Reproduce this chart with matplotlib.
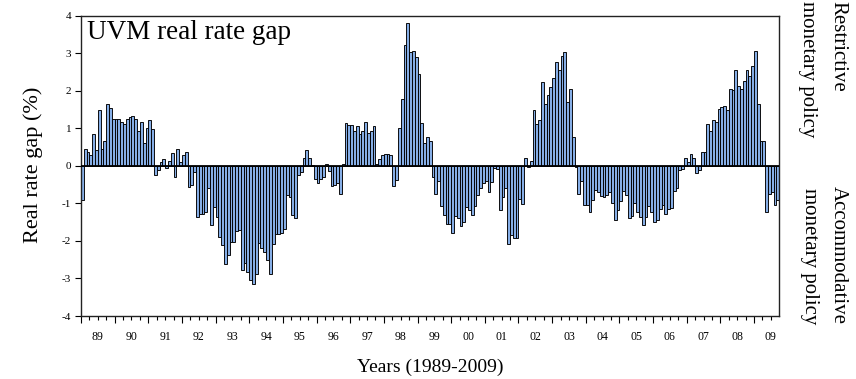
import matplotlib
matplotlib.use("Agg")
import matplotlib.pyplot as plt
import numpy as np

plt.rcParams['font.family'] = ['Liberation Serif', 'DejaVu Serif']
plt.rcParams['axes.unicode_minus'] = False

# Monthly real rate gap (%), 1989M1 - 2009M9
gap_1989 = [-0.92, 0.46, 0.37, 0.30, 0.85, 0.41, 1.48, 0.45, 0.67, 1.65, 1.55, 1.24]
gap_1990 = [1.24, 1.24, 1.16, 1.11, 1.26, 1.31, 1.33, 1.24, 0.94, 1.17, 0.62, 1.00]
gap_1991 = [1.21, 0.98, -0.25, -0.12, 0.11, 0.18, -0.07, 0.14, 0.33, -0.31, 0.44, 0.11]
gap_1992 = [0.30, 0.36, -0.56, -0.52, -0.16, -1.35, -1.27, -1.27, -1.23, -0.58, -1.57, -1.10]
gap_1993 = [-1.35, -1.90, -2.10, -2.62, -2.38, -2.04, -2.04, -1.74, -1.72, -2.78, -2.60, -2.83]
gap_1994 = [-3.05, -3.15, -2.87, -2.05, -2.20, -2.30, -2.50, -2.88, -2.08, -1.81, -1.81, -1.78]
gap_1995 = [-1.67, -0.77, -0.84, -1.32, -1.39, -0.25, -0.16, 0.21, 0.42, 0.21, 0.02, -0.35]
gap_1996 = [-0.47, -0.34, -0.31, 0.06, -0.13, -0.53, -0.50, -0.47, -0.76, 0.04, 1.13, 1.08]
gap_1997 = [1.10, 0.92, 1.06, 0.85, 0.94, 1.18, 0.87, 0.92, 1.05, 0.06, 0.18, 0.28]
gap_1998 = [0.31, 0.31, 0.28, -0.53, -0.39, 1.01, 1.79, 3.22, 3.80, 3.04, 3.06, 2.90]
gap_1999 = [2.46, 1.15, 0.61, 0.76, 0.65, -0.31, -0.74, -0.41, -1.07, -1.30, -1.54, -1.56]
gap_2000 = [-1.80, -1.33, -1.40, -1.60, -1.49, -1.09, -1.18, -1.30, -1.08, -0.78, -0.60, -0.47]
gap_2001 = [-0.41, -0.69, -0.44, -0.05, -0.09, -1.18, -0.84, -0.58, -2.07, -1.85, -1.91, -1.91]
gap_2002 = [-0.89, -1.02, 0.21, -0.04, 0.13, 1.48, 1.12, 1.21, 2.24, 1.64, 1.88, 2.10]
gap_2003 = [2.33, 2.77, 2.55, 2.92, 3.03, 1.69, 2.06, 0.76, -0.03, -0.76, -0.41, -1.05]
gap_2004 = [-1.05, -1.23, -0.90, -0.65, -0.69, -0.80, -0.84, -0.78, -0.69, -1.00, -1.45, -1.18]
gap_2005 = [-0.94, -0.66, -0.78, -1.40, -1.34, -1.00, -1.24, -1.36, -1.58, -1.36, -1.07, -1.23]
gap_2006 = [-1.49, -1.45, -1.16, -1.05, -1.27, -1.14, -1.11, -0.68, -0.60, -0.12, -0.09, 0.20]
gap_2007 = [0.09, 0.31, 0.21, -0.18, -0.12, 0.37, 0.36, 1.12, 0.93, 1.23, 1.16, 1.52]
gap_2008 = [1.58, 1.59, 1.50, 2.05, 2.02, 2.55, 2.12, 2.06, 2.27, 2.55, 2.39, 2.67]
gap_2009 = [3.07, 1.66, 0.66, 0.66, -1.23, -0.74, -0.69, -1.03, -0.90]

yearly = [gap_1989, gap_1990, gap_1991, gap_1992, gap_1993, gap_1994, gap_1995,
          gap_1996, gap_1997, gap_1998, gap_1999, gap_2000, gap_2001, gap_2002,
          gap_2003, gap_2004, gap_2005, gap_2006, gap_2007, gap_2008, gap_2009]
years = list(range(1989, 2010))
year_labels = ["89", "90", "91", "92", "93", "94", "95", "96", "97", "98", "99",
               "00", "01", "02", "03", "04", "05", "06", "07", "08", "09"]
y_ticks = [-4, -3, -2, -1, 0, 1, 2, 3, 4]

values = np.concatenate([np.asarray(v, float) for v in yearly])
n = len(values)
xpos = years[0] + np.arange(n) / 12.0
x_end = years[0] + n / 12

W, H = 856, 379
fig = plt.figure(figsize=(W / 100, H / 100), dpi=100)
ax = fig.add_axes([81 / W, 1 - 316 / H, (779.3 - 81) / W, (316 - 15.7) / H])

ax.bar(xpos, values, width=1 / 12, align='edge', color='#86AEE6',
       edgecolor='black', linewidth=0.65, zorder=2)
ax.axhline(0, color='black', lw=1.3, zorder=3)

ax.set_xlim(years[0], x_end)
ax.set_ylim(-4, 4)
ax.set_yticks(y_ticks)
ax.set_yticklabels([str(t) for t in y_ticks], fontsize=8)
ax.tick_params(axis='y', direction='out', length=4, width=0.8, pad=3, right=False)

ax.set_xticks(years)
ax.set_xticklabels([])
ax.set_xticks([y + q / 4 for y in years for q in (1, 2, 3) if y + q / 4 < x_end],
              minor=True)
ax.tick_params(axis='x', which='major', direction='out', length=5, width=0.8)
ax.tick_params(axis='x', which='minor', direction='out', length=3, width=0.8)

sec = ax.secondary_xaxis('bottom')
sec.set_xticks([y + 0.5 for y in years])
sec.set_xticklabels(year_labels, fontsize=8.5)
sec.tick_params(length=0, pad=11)
sec.spines['bottom'].set_visible(False)

for s in ax.spines.values():
    s.set_linewidth(1.0)
    s.set_color('#222222')

ax.text(0.008, 0.985, 'UVM real rate gap', transform=ax.transAxes,
        fontsize=19.5, ha='left', va='top', zorder=4)

ax.set_xlabel('Years (1989-2009)', fontsize=14, labelpad=22)
fig.text(33 / W, 1 - 165 / H, 'Real rate gap (%)', rotation=90,
         fontsize=16, ha='center', va='center')

fig.text(838 / W, 1 - 1 / H, 'Restrictive', rotation=270, fontsize=15,
         ha='center', va='top')
fig.text(807 / W, 1 - 1 / H, 'monetary policy', rotation=270, fontsize=15,
         ha='center', va='top')
fig.text(838 / W, 1 - 255 / H, 'Accommodative', rotation=270, fontsize=15,
         ha='center', va='center')
fig.text(809 / W, 1 - 256 / H, 'monetary policy', rotation=270, fontsize=15,
         ha='center', va='center')

fig.savefig('out.png', dpi=100)
